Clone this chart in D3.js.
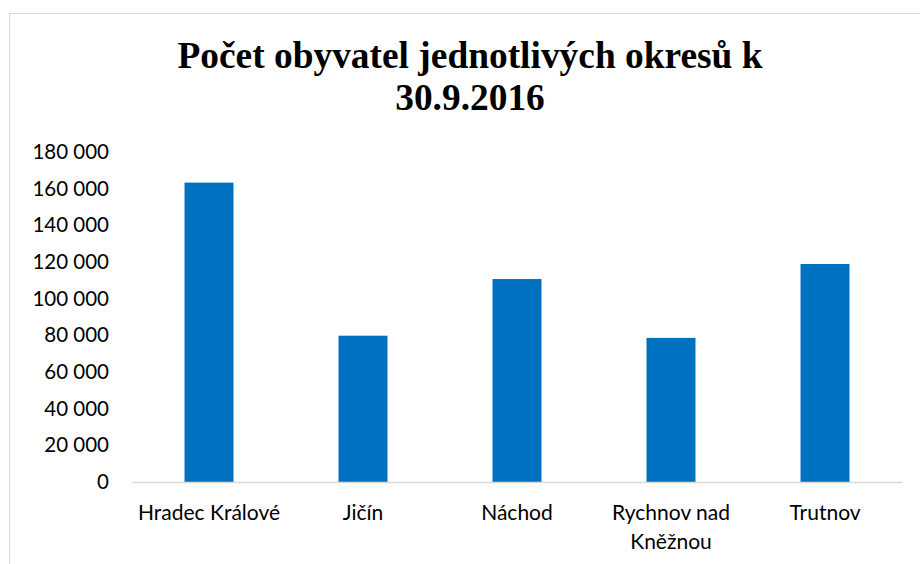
<!DOCTYPE html>
<html>
<head>
    <meta charset="utf-8">
    <title>Počet obyvatel</title>
    <script src="https://d3js.org/d3.v7.min.js"></script>
    <style>
        body { margin: 0; background: #fff; }
    </style>
</head>
<body>
<div id="chart"></div>
<script type="text/javascript">
    // data
    const districts = ["Hradec Králové", "Jičín", "Náchod", "Rychnov nad Kněžnou", "Trutnov"];
    const districtLines = [["Hradec Králové"], ["Jičín"], ["Náchod"], ["Rychnov nad", "Kněžnou"], ["Trutnov"]];
    const population = [163300, 79800, 110700, 78600, 118900];
    const yTicks = [0, 20000, 40000, 60000, 80000, 100000, 120000, 140000, 160000, 180000];
    const titleLines = ["Počet obyvatel jednotlivých okresů k", "30.9.2016"];

    let W = 920, H = 564;
    let margin = {top: 152, right: 18, bottom: 82, left: 132};
    let w = W - margin.left - margin.right;
    let h = H - margin.top - margin.bottom;

    let svg = d3.select("#chart")
        .append("svg")
            .attr("width", W)
            .attr("height", H);

    // chart border (only top/left visible in frame)
    svg.append("rect")
        .attr("x", 9.5).attr("y", 13.5)
        .attr("width", W + 20).attr("height", H + 20)
        .attr("fill", "none")
        .attr("stroke", "#d9d9d9")
        .attr("stroke-width", 1);

    let g = svg.append("g")
        .attr("transform", "translate(" + margin.left + "," + margin.top + ")");

    let xScale = d3.scaleBand()
        .domain(districts)
        .range([0, w])
        .paddingInner(0.682)
        .paddingOuter(0.341);

    let yScale = d3.scaleLinear()
        .domain([0, 180000])
        .range([h, 0]);

    let fmt = d => d3.format(",")(d).replace(/,/g, " ");

    // y axis labels
    let yAxis = d3.axisLeft(yScale)
        .tickValues(yTicks)
        .tickFormat(fmt)
        .tickSize(0)
        .tickPadding(23);

    g.append("g")
        .call(yAxis)
        .call(s => s.select(".domain").remove())
        .selectAll("text")
            .attr("font-family", "Lato, sans-serif")
            .attr("font-size", "20.5px")
            .attr("fill", "#000");

    // bars
    g.selectAll("rect.bar")
        .data(districts)
        .enter()
        .append("rect")
            .attr("class", "bar")
            .attr("x", d => xScale(d))
            .attr("y", (d, i) => yScale(population[i]))
            .attr("width", xScale.bandwidth())
            .attr("height", (d, i) => h - yScale(population[i]))
            .attr("fill", "#0070c0");

    // x axis
    let xAxis = d3.axisBottom(xScale).tickSize(0).tickFormat("");
    let xg = g.append("g")
        .attr("transform", "translate(0," + h + ")")
        .call(xAxis);
    xg.select(".domain").attr("stroke", "#d9d9d9").attr("stroke-width", 1.5);

    xg.selectAll(".tick").each(function(d, i) {
        let t = d3.select(this).append("text")
            .attr("fill", "#000")
            .attr("font-family", "Lato, sans-serif")
            .attr("font-size", "21px")
            .attr("text-anchor", "middle")
            .attr("y", 38);
        districtLines[i].forEach((line, k) => {
            t.append("tspan").attr("x", 0).attr("dy", k === 0 ? 0 : 29).text(line);
        });
    });

    // title
    let title = svg.append("text")
        .attr("x", 470)
        .attr("y", 68)
        .attr("text-anchor", "middle")
        .attr("font-family", "Liberation Serif, 'Times New Roman', serif")
        .attr("font-weight", "bold")
        .attr("font-size", "37.4px")
        .attr("fill", "#000");
    titleLines.forEach((line, k) => {
        title.append("tspan").attr("x", 470).attr("dy", k === 0 ? 0 : 42).text(line);
    });
</script>
</body>
</html>
